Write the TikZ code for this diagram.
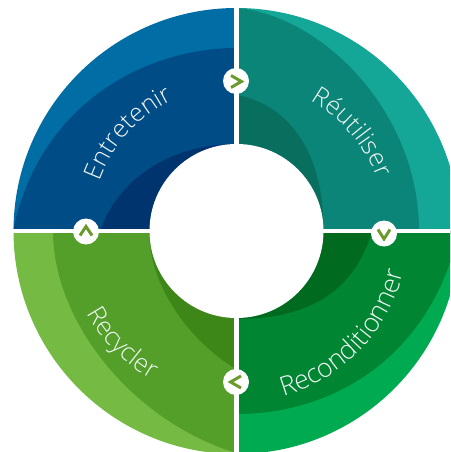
\documentclass[tikz,border=0pt]{standalone}
\usepackage{fontspec}
\usetikzlibrary{decorations.text}
\newfontfamily\lblfont{Open Sans Light}
\definecolor{tlA}{HTML}{006DA5}\definecolor{tlB}{HTML}{004C86}\definecolor{tlC}{HTML}{00346F}
\definecolor{trA}{HTML}{14A697}\definecolor{trB}{HTML}{0B8577}\definecolor{trC}{HTML}{086F5F}
\definecolor{brA}{HTML}{00AA50}\definecolor{brB}{HTML}{008533}\definecolor{brC}{HTML}{006A1E}
\definecolor{blA}{HTML}{75BB43}\definecolor{blB}{HTML}{539F29}\definecolor{blC}{HTML}{3D8719}
\definecolor{lbl}{HTML}{F0F7F4}\definecolor{chevc}{HTML}{6A9A2B}
\tikzset{
 badge/.style={circle,fill=white,inner sep=0pt,minimum size=19.5pt},
 chev/.style={draw=chevc,line width=2.2pt,line join=miter},
 gap/.style={draw=white,line width=3.6pt},
 lab/.style 2 args={postaction={decorate},decoration={text along path,text align=center,
   text={|\lblfont\fontsize{#1}{22}\selectfont\color{lbl}|#2}}}
}
\begin{document}
\begin{tikzpicture}[x=0.75pt,y=-0.75pt]
\useasboundingbox (0,0) rectangle (450,452);
\fill[white] (0,0) rectangle (450,452);
\coordinate (c) at (236.5,231);
\begin{scope}
 \clip (0,0) rectangle (450,452);
 % top left
 \begin{scope}
  \clip (c) circle[radius=223];
  \clip (0,0) rectangle (236.5,231);
  \fill[tlA] (0,0) rectangle (236.5,231);
  \fill[tlB] (236,48) .. controls (150,48) and (40,100) .. (13,231) -- (236.5,231) -- cycle;
  \fill[tlC] (236,144) .. controls (175,144) and (120,175) .. (100,231) -- (236.5,231) -- cycle;
 \end{scope}
 % top right
 \begin{scope}
  \clip (c) circle[radius=223];
  \clip (236.5,0) rectangle (470,231);
  \fill[trA] (236.5,0) rectangle (470,231);
  \fill[trB] (237,8) .. controls (320,15) and (419,110) .. (419,231) -- (236.5,231) -- cycle;
  \fill[trC] (237,95) .. controls (290,105) and (325,155) .. (323,231) -- (236.5,231) -- cycle;
 \end{scope}
 % bottom right
 \begin{scope}
  \clip (c) circle[radius=223];
  \clip (236.5,231) rectangle (470,470);
  \fill[brA] (236.5,231) rectangle (470,470);
  \fill[brB] (237,414) .. controls (330,414) and (430,360) .. (459,231) -- (236.5,231) -- cycle;
  \fill[brC] (237,319) .. controls (310,319) and (355,290) .. (372,231) -- (236.5,231) -- cycle;
 \end{scope}
 % bottom left
 \begin{scope}
  \clip (c) circle[radius=223];
  \clip (0,231) rectangle (236.5,470);
  \fill[blA] (0,231) rectangle (236.5,470);
  \fill[blB] (53,231) .. controls (53,320) and (130,420) .. (236,453) -- (236.5,231) -- cycle;
  \fill[blC] (149,231) .. controls (149,290) and (195,345) .. (236,369) -- (236.5,231) -- cycle;
 \end{scope}
\end{scope}
\fill[white] (c) circle[radius=87];
\draw[gap] (236.5,0) -- (236.5,452);
\draw[gap] (0,231) -- (450,231);
% labels
\begin{scope}[shift={(c)},x=0.75pt,y=0.75pt]
 \path[lab={18.8}{Entretenir}] (176:146) arc[start angle=176,end angle=100,radius=146];
 \path[lab={18.8}{Réutiliser}] (78:150) arc[start angle=78,end angle=3,radius=150];
 \path[lab={19.8}{Reconditionner}] (-88:172) arc[start angle=-88,end angle=0,radius=172];
 \path[lab={19}{Recycler}] (190:171) arc[start angle=190,end angle=259,radius=171];
\end{scope}
% badges
\node[badge] (b1) at (236,81) {};
\node[badge] (b2) at (384,233.5) {};
\node[badge] (b3) at (236,382) {};
\node[badge] (b4) at (86,231.5) {};
\draw[chev] ([shift={(-5,-5.5)}]b1.center) -- ([shift={(5.5,0.5)}]b1.center) -- ([shift={(-5,6.5)}]b1.center);
\draw[chev] ([shift={(-6,-4)}]b2.center) -- ([shift={(0,5.5)}]b2.center) -- ([shift={(6,-4)}]b2.center);
\draw[chev] ([shift={(5,-6)}]b3.center) -- ([shift={(-5.5,0)}]b3.center) -- ([shift={(5,6)}]b3.center);
\draw[chev] ([shift={(-6,4)}]b4.center) -- ([shift={(0,-5)}]b4.center) -- ([shift={(6,4)}]b4.center);
\end{tikzpicture}
\end{document}
